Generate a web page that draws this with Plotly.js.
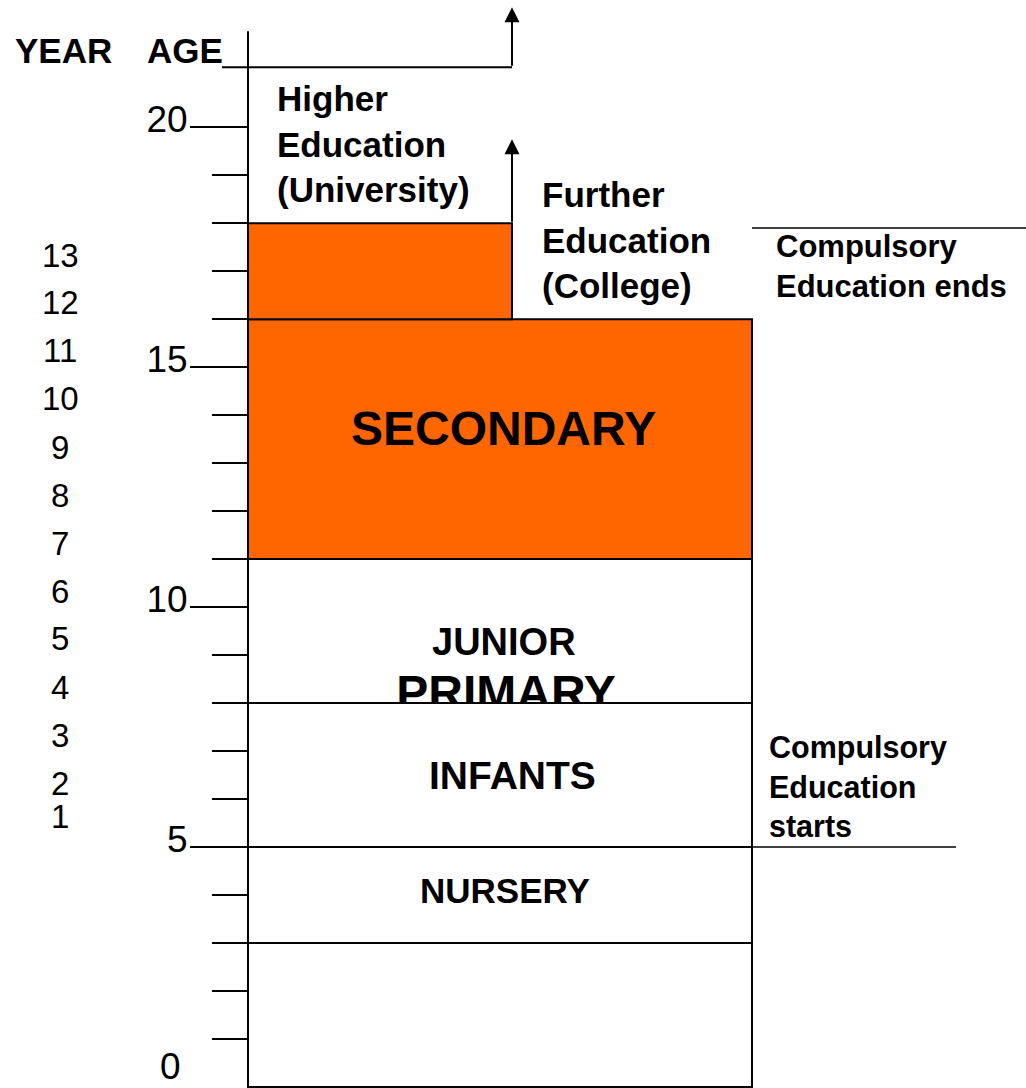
<!DOCTYPE html>
<html><head><meta charset="utf-8">
<script src="https://cdn.plot.ly/plotly-3.0.1.min.js"></script>
<style>html,body{margin:0;padding:0;background:#fff;overflow:hidden}#chart{width:1026px;height:1088px}</style>
</head><body><div id="chart"></div>
<script>
// ---------------- data (ages in years) ----------------
const stageNames  = ['', 'NURSERY', 'INFANTS', 'JUNIOR', 'SECONDARY'];
const stageStart  = [0, 3, 5, 8, 11];
const stageEnd    = [3, 5, 8, 11, 16];
const primaryLabel = 'PRIMARY';
const primaryAge   = 8.12;            // label straddling Junior / Infants
const furtherStart = 16;               // Further Education (College) block
const furtherEnd   = 18;
const higherArrowTop = 19.75;          // arrow from Further Education upwards
const headerLineAge  = 21.25;          // line under YEAR / AGE header
const topArrowAge    = 22.5;           // Higher Education arrow tip
const ageAxisTop     = 22;
const compulsoryStartsAge = 5;
const compulsoryEndsAge   = 17.9;
const ageMajorTicks = [5, 10, 15, 20];
const ageMinorTicks = [1, 2, 3, 4, 6, 7, 8, 9, 11, 12, 13, 14, 16, 17, 18, 19];
const ageOriginLabel = '0';
const years    = ['1', '2', '3', '4', '5', '6', '7', '8', '9', '10', '11', '12', '13'];
const yearAges = [5.63, 6.33, 7.33, 8.33, 9.35, 10.33, 11.33, 12.33, 13.33, 14.35, 15.35, 16.35, 17.33];

// ---------------- layout constants ----------------
const W = 1026, H = 1088;
const FONT = 'Liberation Sans, Arial, sans-serif';
const ORANGE = '#FF6600';
const X_AXIS = 248, X_RIGHT = 752, X_MID = 512, X_CENTER = 504;
const stageStyle = {
  '':          {fill: '#ffffff', size: 36, layer: 'below'},
  'NURSERY':   {fill: '#ffffff', size: 35, layer: 'below'},
  'INFANTS':   {fill: '#ffffff', size: 39, layer: 'above'},
  'JUNIOR':    {fill: '#ffffff', size: 38, layer: 'below'},
  'SECONDARY': {fill: ORANGE,    size: 48, layer: 'below'}
};
const stageLabelAge = {'NURSERY': 4.1, 'INFANTS': 6.5, 'JUNIOR': 9.27, 'SECONDARY': 13.73};
const stageLabelX = {'NURSERY': 505, 'INFANTS': 512, 'JUNIOR': 504, 'SECONDARY': 503};

const shapes = [];
const annotations = [];
const line = {color: '#000', width: 2};

stageNames.forEach((n, i) => {
  const st = stageStyle[n];
  shapes.push({type: 'rect', xref: 'x', yref: 'y', x0: X_AXIS, x1: X_RIGHT,
    y0: stageStart[i], y1: stageEnd[i], fillcolor: st.fill, line: line, layer: st.layer});
  if (n) annotations.push({xref: 'x', yref: 'y', x: stageLabelX[n], y: stageLabelAge[n], text: n,
    showarrow: false, xanchor: 'center', yanchor: 'middle',
    font: {family: FONT, size: st.size, color: '#000', weight: 'bold'}});
});
// Further education (orange) block
shapes.push({type: 'rect', xref: 'x', yref: 'y', x0: X_AXIS, x1: X_MID, y0: furtherStart, y1: furtherEnd,
  fillcolor: ORANGE, line: line, layer: 'below'});
// Age axis line
shapes.push({type: 'line', xref: 'x', yref: 'y', x0: X_AXIS, x1: X_AXIS, y0: 0, y1: ageAxisTop, line: line, layer: 'above'});
// header line
shapes.push({type: 'line', xref: 'x', yref: 'y', x0: 222, x1: X_MID, y0: headerLineAge, y1: headerLineAge, line: line, layer: 'above'});
// compulsory education lines
shapes.push({type: 'line', xref: 'x', yref: 'y', x0: X_RIGHT, x1: W, y0: compulsoryEndsAge, y1: compulsoryEndsAge, line: {color: '#000', width: 1.5}});
shapes.push({type: 'line', xref: 'x', yref: 'y', x0: 692, x1: 956, y0: compulsoryStartsAge, y1: compulsoryStartsAge, line: {color: '#000', width: 1.5}, layer: 'above'});

// arrows
const arrow = (y0, y1) => ({xref: 'x', yref: 'y', axref: 'x', ayref: 'y', x: X_MID, y: y1, ax: X_MID, ay: y0,
  text: '', showarrow: true, arrowhead: 2, arrowsize: 1.5, arrowwidth: 2, arrowcolor: '#000', standoff: 0, startstandoff: 0});
annotations.push(arrow(furtherEnd, higherArrowTop));
annotations.push(arrow(headerLineAge, topArrowAge));

// text blocks
const bold = (x, y, text, size, xa) => ({xref: 'x', yref: 'y', x: x, y: y, text: text, showarrow: false,
  xanchor: xa || 'left', yanchor: 'middle', align: 'left', font: {family: FONT, size: size, color: '#000', weight: 'bold'}});
annotations.push(bold(13, 21.6, 'YEAR', 35));
annotations.push(bold(145, 21.6, 'AGE', 35));
annotations.push(bold(275, 19.65, 'Higher<br>Education<br>(University)', 35));
annotations.push(bold(540, 17.65, 'Further<br>Education<br>(College)', 35));
annotations.push(bold(774, 17.1, 'Compulsory<br>Education ends', 31));
annotations.push(bold(767, 6.27, 'Compulsory<br>Education<br>starts', 30.5));

// year labels
years.forEach((t, i) => annotations.push({xref: 'x', yref: 'y', x: 60, y: yearAges[i], text: t, showarrow: false,
  xanchor: 'center', yanchor: 'middle', font: {family: FONT, size: 33, color: '#000'}}));
// age origin label
annotations.push({xref: 'x', yref: 'y', x: 183, y: 0, text: ageOriginLabel, showarrow: false,
  xanchor: 'right', yanchor: 'middle', yshift: 21, font: {family: FONT, size: 37, color: '#000'}});

const traces = [{
  type: 'scatter', mode: 'text', x: [X_CENTER + 2], y: [primaryAge], text: [primaryLabel],
  textposition: 'middle center', hoverinfo: 'skip', showlegend: false,
  textfont: {family: FONT, size: 48, color: '#000', weight: 'bold'}
}];

const layout = {
  width: W, height: H, margin: {l: 0, r: 0, t: 0, b: 0, pad: 0},
  paper_bgcolor: '#fff', plot_bgcolor: 'rgba(0,0,0,0)', showlegend: false,
  xaxis: {range: [0, W], visible: false, fixedrange: true},
  yaxis: {range: [-0.02, 22.65], anchor: 'free', position: X_AXIS / W, side: 'left',
    showline: false, showgrid: false, zeroline: false,
    ticks: 'outside', ticklen: 58, tickwidth: 2, tickcolor: '#000',
    tickmode: 'array', tickvals: ageMajorTicks, ticktext: ageMajorTicks.map(String),
    tickfont: {family: FONT, size: 37, color: '#000'}, ticklabelshift: -8, ticklabelstandoff: -5,
    minor: {tickmode: 'array', tickvals: ageMinorTicks, ticks: 'outside', ticklen: 36, tickwidth: 2, tickcolor: '#000', showgrid: false},
    fixedrange: true},
  shapes: shapes, annotations: annotations
};
Plotly.newPlot('chart', traces, layout, {displayModeBar: false, staticPlot: true});
</script></body></html>
